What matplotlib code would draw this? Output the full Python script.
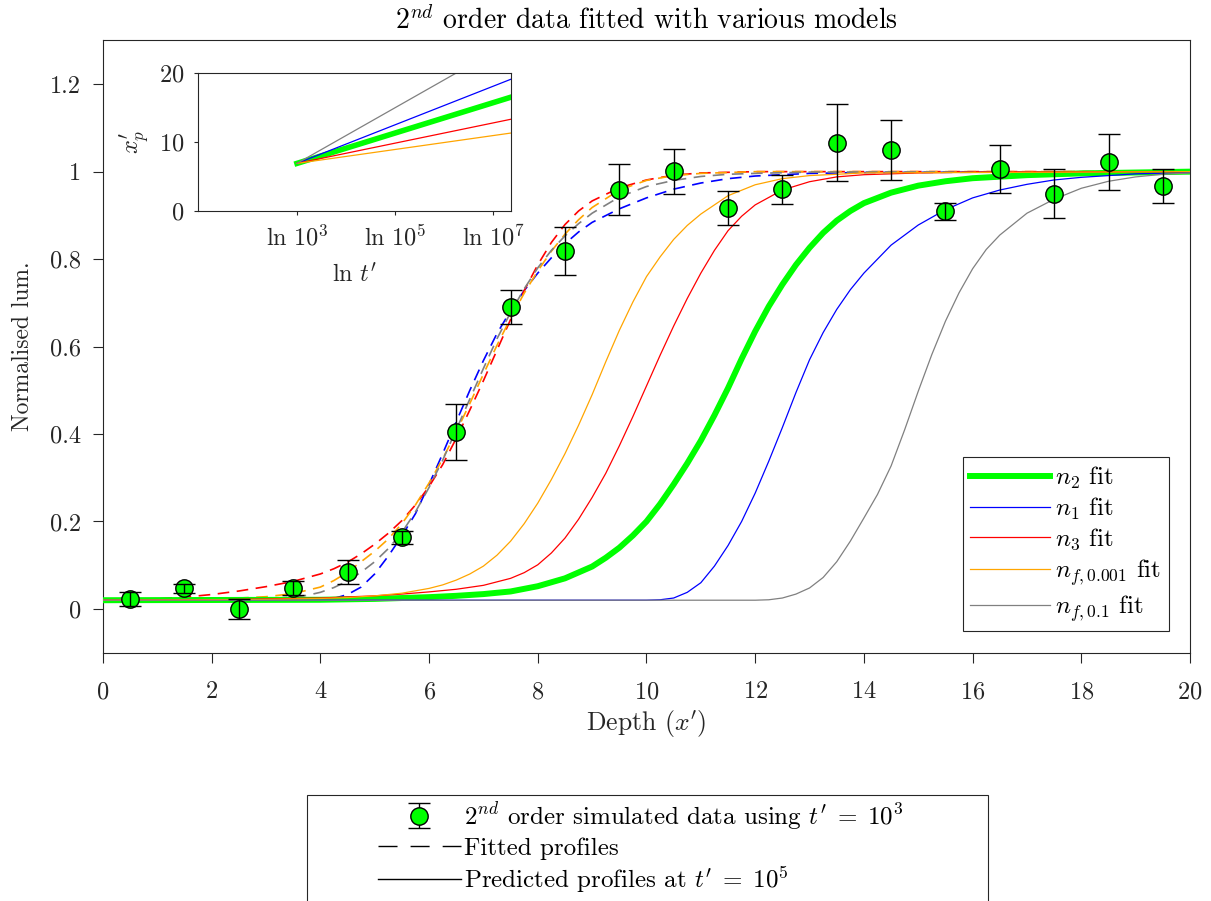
import numpy as np
import matplotlib.pyplot as plt
from matplotlib.lines import Line2D
from matplotlib.patches import Rectangle
from matplotlib.ticker import FormatStrFormatter

plt.rcParams['font.family'] = 'cmr10'
plt.rcParams['mathtext.fontset'] = 'cm'
plt.rcParams['axes.formatter.use_mathtext'] = True
plt.rcParams['axes.unicode_minus'] = False

# simulated 2nd order data (t' = 1e3)
depth = [0.5, 1.5, 2.5, 3.5, 4.5, 5.5, 6.5, 7.5, 8.5, 9.5,
         10.5, 11.5, 12.5, 13.5, 14.5, 15.5, 16.5, 17.5, 18.5, 19.5]
lum = [0.023, 0.047, 0.000, 0.049, 0.084, 0.164, 0.404, 0.691, 0.819, 0.959,
       1.001, 0.917, 0.960, 1.066, 1.049, 0.909, 1.006, 0.950, 1.022, 0.968]
lum_err = [0.016, 0.010, 0.023, 0.016, 0.028, 0.015, 0.064, 0.039, 0.055, 0.058,
           0.051, 0.039, 0.033, 0.088, 0.068, 0.020, 0.054, 0.055, 0.065, 0.039]

# fitted profiles (dashed)
fit_n1_x = [0, 4, 4.25, 4.5, 4.75, 5, 5.25, 5.5, 5.75, 6, 6.25, 6.5, 6.75, 7, 7.25,
            7.5, 7.75, 8, 8.25, 8.5, 8.75, 9, 9.5, 10, 10.5, 11, 11.5, 12, 13, 14, 20]
fit_n1_y = [0.020, 0.021, 0.024, 0.033, 0.050, 0.080, 0.121, 0.167, 0.218, 0.285,
            0.355, 0.428, 0.500, 0.568, 0.630, 0.682, 0.728, 0.768, 0.803, 0.835,
            0.862, 0.884, 0.915, 0.940, 0.960, 0.974, 0.984, 0.990, 0.996, 0.998, 1.000]

fit_n3_x = [0, 0.5, 1, 1.5, 2, 2.5, 3, 3.5, 4, 4.25, 4.5, 4.75, 5, 5.25, 5.5, 5.75,
            6, 6.25, 6.5, 6.75, 7, 7.25, 7.5, 7.75, 8, 8.25, 8.5, 8.75, 9, 9.5, 10,
            10.5, 11, 12, 20]
fit_n3_y = [0.020, 0.021, 0.023, 0.027, 0.033, 0.041, 0.051, 0.063, 0.080, 0.092,
            0.107, 0.126, 0.148, 0.173, 0.202, 0.238, 0.280, 0.330, 0.390, 0.455,
            0.522, 0.592, 0.662, 0.728, 0.787, 0.838, 0.879, 0.910, 0.933, 0.963,
            0.981, 0.992, 0.997, 1.000, 1.000]

fit_nf001_x = [0, 1, 2, 2.5, 3, 3.5, 4, 4.25, 4.5, 4.75, 5, 5.25, 5.5, 5.75, 6, 6.25,
               6.5, 6.75, 7, 7.25, 7.5, 7.75, 8, 8.25, 8.5, 8.75, 9, 9.5, 10, 10.5,
               11, 12, 20]
fit_nf001_y = [0.020, 0.021, 0.023, 0.025, 0.028, 0.035, 0.050, 0.065, 0.084, 0.108,
               0.132, 0.160, 0.195, 0.238, 0.288, 0.343, 0.405, 0.470, 0.537, 0.603,
               0.665, 0.722, 0.773, 0.818, 0.857, 0.890, 0.918, 0.958, 0.980, 0.991,
               0.996, 1.000, 1.000]

fit_nf01_x = [0, 2, 2.5, 3, 3.5, 3.75, 4, 4.25, 4.5, 4.75, 5, 5.25, 5.5, 5.75, 6,
              6.25, 6.5, 6.75, 7, 7.25, 7.5, 7.75, 8, 8.25, 8.5, 8.75, 9, 9.5, 10,
              10.5, 11, 11.5, 12, 13, 20]
fit_nf01_y = [0.020, 0.021, 0.022, 0.023, 0.027, 0.031, 0.038, 0.049, 0.064, 0.084,
              0.108, 0.138, 0.175, 0.222, 0.278, 0.340, 0.410, 0.480, 0.550, 0.618,
              0.678, 0.732, 0.780, 0.820, 0.853, 0.881, 0.905, 0.942, 0.966, 0.980,
              0.989, 0.994, 0.996, 0.999, 1.000]

# predicted profiles at t' = 1e5 (solid)
pred_n2_x = [0, 4, 5, 6, 6.5, 7, 7.5, 8, 8.5, 9, 9.25, 9.5, 9.75, 10, 10.25, 10.5,
             10.75, 11, 11.25, 11.5, 11.75, 12, 12.25, 12.5, 12.75, 13, 13.25, 13.5,
             13.75, 14, 14.5, 15, 15.5, 16, 17, 18, 19, 20]
pred_n2_y = [0.020, 0.021, 0.023, 0.027, 0.030, 0.034, 0.040, 0.052, 0.070, 0.097,
             0.117, 0.140, 0.168, 0.200, 0.240, 0.285, 0.333, 0.385, 0.443, 0.505,
             0.572, 0.635, 0.692, 0.742, 0.787, 0.826, 0.860, 0.888, 0.910, 0.928,
             0.952, 0.968, 0.978, 0.985, 0.992, 0.996, 0.998, 1.000]

pred_n1_x = [0, 10, 10.25, 10.5, 10.75, 11, 11.25, 11.5, 11.75, 12, 12.25, 12.5,
             12.75, 13, 13.25, 13.5, 13.75, 14, 14.5, 15, 15.5, 16, 16.5, 17, 17.5,
             18, 19, 20]
pred_n1_y = [0.020, 0.020, 0.021, 0.025, 0.038, 0.060, 0.098, 0.145, 0.200, 0.265,
             0.338, 0.415, 0.495, 0.570, 0.632, 0.685, 0.730, 0.768, 0.832, 0.878,
             0.913, 0.940, 0.958, 0.971, 0.981, 0.987, 0.995, 0.998]

pred_n3_x = [0, 2, 3, 4, 5, 5.5, 6, 6.5, 7, 7.5, 7.75, 8, 8.25, 8.5, 8.75, 9, 9.25,
             9.5, 9.75, 10, 10.25, 10.5, 10.75, 11, 11.25, 11.5, 11.75, 12, 12.5, 13,
             13.5, 14, 15, 16, 20]
pred_n3_y = [0.020, 0.021, 0.023, 0.025, 0.030, 0.034, 0.039, 0.045, 0.054, 0.070,
             0.083, 0.101, 0.128, 0.162, 0.205, 0.255, 0.310, 0.373, 0.440, 0.510,
             0.580, 0.647, 0.710, 0.768, 0.820, 0.865, 0.898, 0.924, 0.958, 0.977,
             0.988, 0.993, 0.997, 0.999, 1.000]

pred_nf001_x = [0, 2, 3, 4, 4.5, 5, 5.5, 6, 6.25, 6.5, 6.75, 7, 7.25, 7.5, 7.75, 8,
                8.25, 8.5, 8.75, 9, 9.25, 9.5, 9.75, 10, 10.25, 10.5, 10.75, 11,
                11.5, 12, 12.5, 13, 14, 20]
pred_nf001_y = [0.020, 0.021, 0.022, 0.024, 0.026, 0.030, 0.036, 0.047, 0.055, 0.066,
                0.080, 0.098, 0.123, 0.155, 0.195, 0.242, 0.296, 0.355, 0.420, 0.490,
                0.565, 0.637, 0.702, 0.760, 0.805, 0.845, 0.877, 0.903, 0.945, 0.970,
                0.984, 0.991, 0.997, 1.000]

pred_nf01_x = [0, 12, 12.25, 12.5, 12.75, 13, 13.25, 13.5, 13.75, 14, 14.25, 14.5,
               14.75, 15, 15.25, 15.5, 15.75, 16, 16.25, 16.5, 17, 17.5, 18, 18.5,
               19, 19.5, 20]
pred_nf01_y = [0.020, 0.020, 0.021, 0.025, 0.034, 0.048, 0.072, 0.108, 0.155, 0.208,
               0.262, 0.327, 0.410, 0.498, 0.582, 0.658, 0.723, 0.778, 0.822, 0.855,
               0.905, 0.937, 0.962, 0.978, 0.988, 0.994, 0.997]

# inset: profile position x'_p vs ln t'
ln_t = [np.log(1e3), 16.96]
xp_n2 = [6.9, 16.5]
xp_n1 = [6.9, 19.1]
xp_n3 = [6.9, 13.3]
xp_nf001 = [6.9, 11.3]
xp_nf01 = [6.9, 24.5]

colors = {'n2': '#00ff00', 'n1': '#0000ff', 'n3': '#ff0000',
          'nf001': '#ffa500', 'nf01': '#808080'}

FS = 17.5
dark = '#262626'

fig = plt.figure(figsize=(12.11, 9.01), dpi=100)
ax = fig.add_axes([0.085, 0.2756, 0.8977, 0.6795])

# fitted (dashed)
for fx, fy, key in [(fit_n1_x, fit_n1_y, 'n1'), (fit_n3_x, fit_n3_y, 'n3'),
                    (fit_nf001_x, fit_nf001_y, 'nf001'),
                    (fit_nf01_x, fit_nf01_y, 'nf01')]:
    ax.plot(fx, fy, color=colors[key], lw=1.2, dashes=(7, 4.5), zorder=2)

# predicted (solid)
solid = [(pred_n2_x, pred_n2_y, 'n2', 4.3, '$n_2$ fit'),
         (pred_n1_x, pred_n1_y, 'n1', 0.9, '$n_1$ fit'),
         (pred_n3_x, pred_n3_y, 'n3', 0.9, '$n_3$ fit'),
         (pred_nf001_x, pred_nf001_y, 'nf001', 0.9, '$n_{f,0.001}$ fit'),
         (pred_nf01_x, pred_nf01_y, 'nf01', 0.9, '$n_{f,0.1}$ fit')]
solid_handles = []
for px, py, key, lw, label in solid:
    h, = ax.plot(px, py, color=colors[key], lw=lw, label=label, zorder=3)
    solid_handles.append(h)

eb = ax.errorbar(depth, lum, yerr=lum_err, fmt='o', color='black', ms=12.5,
                 mfc='#00ff00', mec='black', mew=1.0, ecolor='black',
                 elinewidth=1.0, capsize=8, capthick=1.0)
eb[0].set_zorder(5)
for c in list(eb[1]) + list(eb[2]):
    c.set_zorder(6)

ax.set_xlim(0, 20)
ax.set_ylim(-0.1, 1.3)
ax.set_xticks(np.arange(0, 21, 2))
ax.set_yticks([0, 0.2, 0.4, 0.6, 0.8, 1.0, 1.2])
ax.yaxis.set_major_formatter(FormatStrFormatter('%g'))
ax.tick_params(direction='out', length=7.5, width=0.8, labelsize=FS,
               colors=dark, top=False, right=False)
ax.tick_params(axis='x', pad=13)
ax.tick_params(axis='y', pad=8)
for s in ax.spines.values():
    s.set_color(dark)
    s.set_linewidth(0.8)
ax.set_xlabel("Depth ($x'$)", fontsize=18.5, color=dark, labelpad=4)
ax.set_ylabel('Normalised lum.', fontsize=17, color=dark, labelpad=12)
ax.set_title('$2^{nd}$ order data fitted with various models', fontsize=20, pad=8)

leg1 = ax.legend(handles=solid_handles, loc='lower right', fontsize=18,
                 frameon=True, fancybox=False, edgecolor=dark, framealpha=1,
                 handlelength=3.2, handletextpad=0.2, labelspacing=0.2,
                 borderaxespad=0.85, borderpad=0.3)
leg1.get_frame().set_linewidth(0.8)

# inset
ins = fig.add_axes([0.1635, 0.7658, 0.2585, 0.1532])
for xp, key, lw in [(xp_n2, 'n2', 4.0), (xp_n1, 'n1', 0.9), (xp_n3, 'n3', 0.9),
                    (xp_nf001, 'nf001', 0.9), (xp_nf01, 'nf01', 0.9)]:
    ins.plot(ln_t, xp, color=colors[key], lw=lw)
ins.set_xlim(2.26, 16.96)
ins.set_ylim(0, 20)
ins.set_xticks([np.log(1e3), np.log(1e5), np.log(1e7)])
ins.set_xticklabels(['$\\ln\\,10^3$', '$\\ln\\,10^5$', '$\\ln\\,10^7$'])
ins.set_yticks([0, 10, 20])
ins.tick_params(direction='out', length=3, width=0.8, labelsize=FS, colors=dark, pad=7)
for s in ins.spines.values():
    s.set_color(dark)
    s.set_linewidth(0.8)
ins.set_xlabel("$\\ln\\,t^{\\prime}$", fontsize=FS, color=dark, labelpad=9)
ins.set_ylabel("$x^{\\prime}_{p}$", fontsize=FS, color=dark, labelpad=5)

# bottom legend
h_fit = Line2D([], [], color='black', lw=1.0, dashes=(13.7, 9.4))
h_pred = Line2D([], [], color='black', lw=1.0)
leg2 = fig.legend(handles=[eb, h_fit, h_pred],
                  labels=["$2^{nd}$ order simulated data using $t^{\\prime}\\;=\\;10^3$",
                          'Fitted profiles',
                          "Predicted profiles at $t^{\\prime}\\;=\\;10^5$"],
                  loc='upper left', bbox_to_anchor=(0.302, 0.126),
                  fontsize=18, frameon=False, handlelength=3.3,
                  handletextpad=0.12, labelspacing=0.18, borderpad=0.0)
fig.patches.append(Rectangle((0.2535, -0.01), 0.5624, 0.1277,
                             transform=fig.transFigure, fill=False,
                             edgecolor=dark, lw=0.8))

fig.savefig('out.png', dpi=100)
